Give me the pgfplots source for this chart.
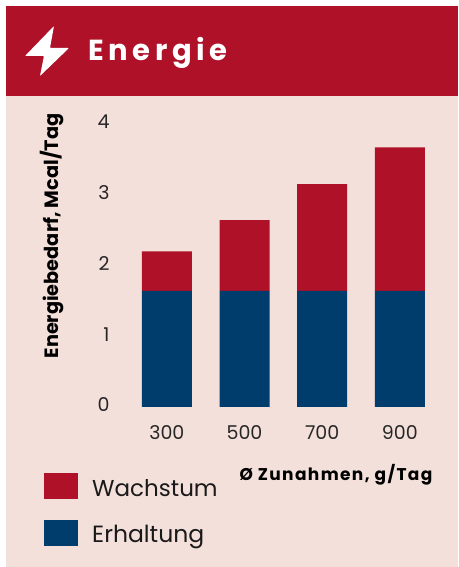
\documentclass[border=0pt]{standalone}
\usepackage{fontspec}
\setmainfont{Poppins}
\newfontfamily\titlefont{Poppins}
\usepackage{pgfplots}
\pgfplotsset{compat=1.18}
\definecolor{rotton}{HTML}{AE1128}
\definecolor{blauton}{HTML}{003D6D}
\definecolor{panel}{HTML}{F4E0DB}
\pgfplotstableread{
x wachstum erhaltung
0 0.56 1.64
1 1.00 1.64
2 1.51 1.64
3 2.03 1.64
}\energie
\begin{document}
\begin{tikzpicture}[x=1pt,y=1pt]
% coordinates are pixels of the reference, y upwards from the lower edge
\path[fill=white] (0,0) rectangle (458,567);
\fill[panel] (6,0) rectangle (458,561);
\fill[rotton] (6,471) rectangle (458,561);
\fill[white,rounded corners=0.8pt] (54,541) -- (25,511) -- (44,511) -- (40,491) -- (69,519) -- (50,519) -- cycle;
\node[anchor=base west,text=white,font=\titlefont\bfseries\fontsize{29}{29}\selectfont,inner sep=0pt] at (88,506) {\addfontfeature{LetterSpace=16}Energie};
\begin{axis}[
    at={(128pt,160pt)},anchor=south west,
    scale only axis,
    width=310.7pt,height=283pt,
    xmin=-0.5,xmax=3.5,ymin=0,ymax=4,
    ybar stacked,
    bar width=50pt,
    axis line style={draw=none},
    tick style={draw=none},
    xtick=data,
    xticklabels={300,500,700,900},
    ytick={0,1,2,3,4},
    /pgf/number format/assume math mode=true,
    tick label style={font=\fontsize{19}{19}\selectfont,text=black!85},
    xticklabel style={yshift=-15pt},
    yticklabel style={xshift=-15pt,yshift=2pt},
    clip=false,
]
\addplot[fill=blauton,draw=none] table[x=x,y=erhaltung] {\energie};
\addplot[fill=rotton,draw=none] table[x=x,y=wachstum] {\energie};
\end{axis}
\node[rotate=90,font=\titlefont\bfseries\fontsize{19.3}{19.3}\selectfont,inner sep=0pt] at (52,331) {Energiebedarf, Mcal/Tag};
\node[font=\titlefont\bfseries\fontsize{17}{17}\selectfont,inner sep=0pt] at (336,92) {\addfontfeature{LetterSpace=8}Ø Zunahmen, g/Tag};
\fill[rotton] (44,68) rectangle (78,94);
\fill[blauton] (44,21) rectangle (78,47);
\node[anchor=base west,font=\fontsize{23}{23}\selectfont,text=black!90,inner sep=0pt] at (92,70) {Wachstum};
\node[anchor=base west,font=\fontsize{23.5}{23.5}\selectfont,text=black!90,inner sep=0pt] at (92,24) {Erhaltung};
\end{tikzpicture}
\end{document}
